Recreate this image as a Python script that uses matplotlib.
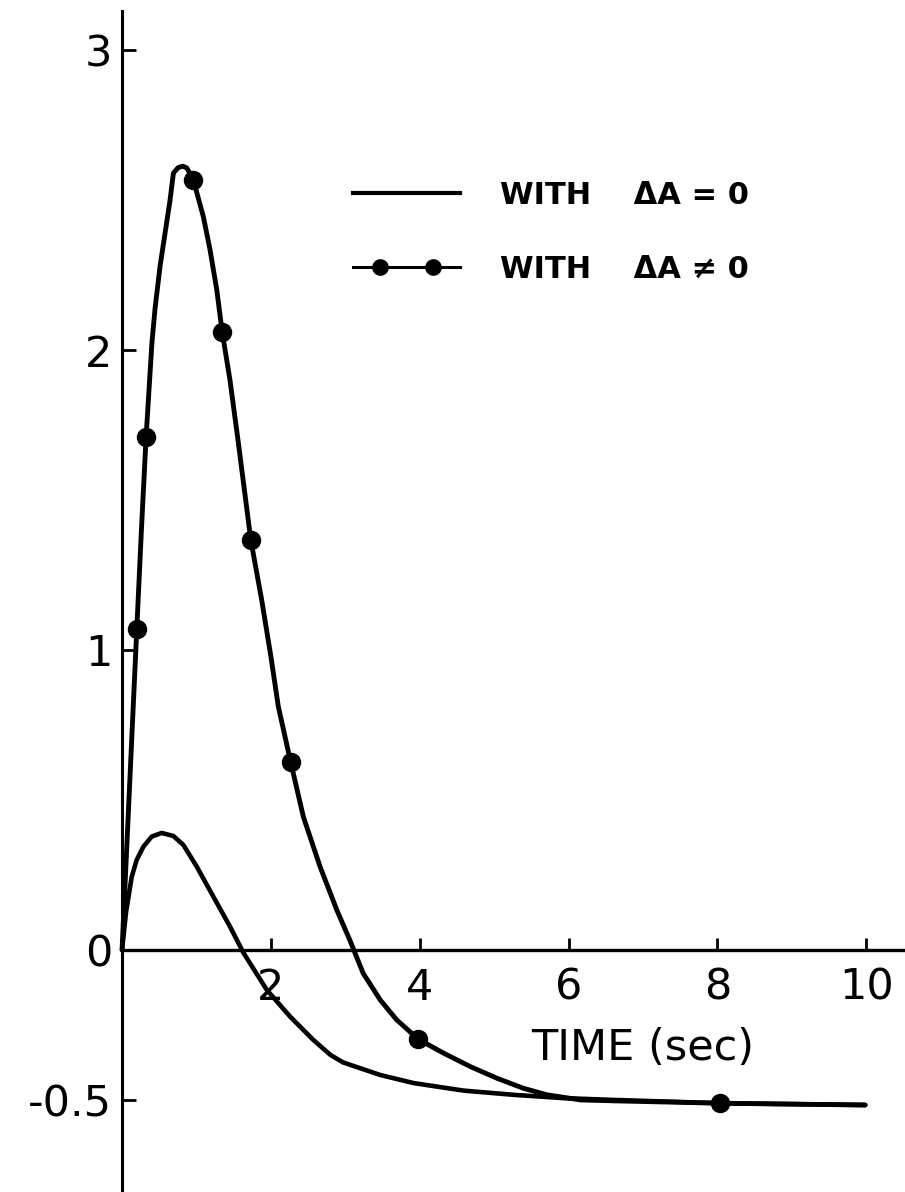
import matplotlib
matplotlib.use('Agg')
import matplotlib.pyplot as plt
from matplotlib.lines import Line2D
from matplotlib.legend_handler import HandlerLine2D

plt.rcParams['font.family'] = ['DejaVu Sans']

# curve with delta A = 0 (plain line)
t_zero = [0.0, 0.054, 0.13, 0.196, 0.286, 0.398, 0.532, 0.689, 0.824, 1.003, 1.226,
          1.45, 1.63, 1.944, 2.257, 2.57, 2.80, 2.97, 3.47, 3.92, 4.59, 5.26, 5.93,
          6.60, 8.03, 9.985]
y_zero = [0.0, 0.127, 0.244, 0.30, 0.344, 0.378, 0.39, 0.38, 0.35, 0.278, 0.178,
          0.078, -0.009, -0.133, -0.222, -0.30, -0.35, -0.375, -0.417, -0.444,
          -0.469, -0.483, -0.494, -0.50, -0.511, -0.517]

# curve with delta A != 0 (line with dots)
t_nz = [0.0, 0.085, 0.198, 0.262, 0.323, 0.40, 0.444, 0.511, 0.578, 0.645, 0.69,
        0.753, 0.815, 0.87, 0.958, 1.093, 1.183, 1.273, 1.345, 1.45, 1.563, 1.73,
        1.876, 2.0, 2.10, 2.266, 2.436, 2.66, 2.886, 3.06, 3.24, 3.47, 3.69, 3.982,
        4.32, 4.68, 5.04, 5.39, 5.71, 6.16, 6.60, 8.03, 9.985]
y_nz = [0.0, 0.46, 1.07, 1.41, 1.71, 2.02, 2.14, 2.28, 2.39, 2.50, 2.59,
        2.608, 2.613, 2.607, 2.567, 2.444, 2.333, 2.20, 2.061, 1.90, 1.69, 1.367,
        1.167, 0.978, 0.811, 0.626, 0.444, 0.278, 0.133, 0.033, -0.078, -0.167,
        -0.233, -0.298, -0.344, -0.389, -0.428, -0.461, -0.483, -0.50, -0.503,
        -0.511, -0.517]

# dots drawn on the delta A != 0 curve
t_dots = [0.198, 0.323, 0.958, 1.345, 1.73, 2.266, 3.982, 8.03]
y_dots = [1.07, 1.71, 2.567, 2.061, 1.367, 0.626, -0.298, -0.511]

x_ticks = [2, 4, 6, 8, 10]
x_labels = ['2', '4', '6', '8', '10']
y_ticks = [-0.5, 0, 1, 2, 3]
y_labels = ['-0.5', '0', '1', '2', '3']

fig = plt.figure(figsize=(9.05, 11.92), dpi=100)
ax = fig.add_axes([0, 0, 1, 1])
ax.set_xlim(-1.64, 10.52)
ax.set_ylim(-0.807, 3.167)

ax.plot(t_zero, y_zero, color='black', lw=3.3, solid_capstyle='round',
        solid_joinstyle='round')
ax.plot(t_nz, y_nz, color='black', lw=3.5, solid_capstyle='round',
        solid_joinstyle='round')
ax.plot(t_dots, y_dots, 'o', color='black', ms=13)

# axes drawn through the origin
for side in ['top', 'right']:
    ax.spines[side].set_visible(False)
ax.spines['left'].set_position(('data', 0))
ax.spines['bottom'].set_position(('data', 0))
ax.spines['left'].set_bounds(-0.807, 3.13)
ax.spines['bottom'].set_bounds(0, 10.52)
ax.spines['left'].set_linewidth(2.2)
ax.spines['bottom'].set_linewidth(2.4)

ax.set_xticks(x_ticks)
ax.set_xticklabels(x_labels)
ax.set_yticks(y_ticks)
ax.set_yticklabels(y_labels)
ax.tick_params(axis='x', direction='in', length=9, width=2, pad=12, labelsize=31)
ax.tick_params(axis='y', direction='in', length=10, width=2, pad=7, labelsize=31)

ax.set_xlabel('TIME (sec)', fontsize=31)
ax.xaxis.set_label_coords(7.0, -0.327, transform=ax.transData)
ax.xaxis.label.set_va('center')

# legend: plain line, and line with two dots on it
h_plain = Line2D([], [], color='black', lw=3.0)
h_line = Line2D([], [], color='black', lw=2.2)
h_dots = Line2D([], [], ls='none', marker='o', color='black', ms=11)
ax.legend([h_plain, (h_line, h_dots)], ['WITH    ΔA = 0', 'WITH    ΔA ≠ 0'],
          handler_map={h_dots: HandlerLine2D(numpoints=2, marker_pad=0.88)},
          loc='upper left', bbox_to_anchor=(353 / 905, 1 - 181 / 1192),
          frameon=False, prop={'size': 22, 'weight': 'bold'}, handlelength=3.5,
          handletextpad=1.3, labelspacing=1.45, borderpad=0, borderaxespad=0)

fig.savefig('out.png', dpi=100)
